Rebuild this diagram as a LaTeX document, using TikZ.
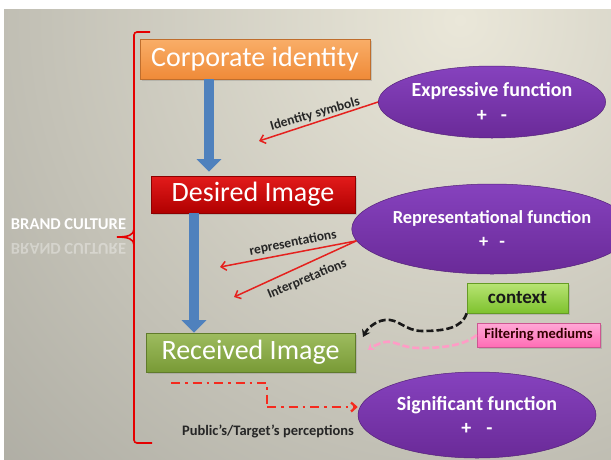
\documentclass[tikz,border=0pt]{standalone}
\usepackage{fontspec}
\setmainfont{Carlito}
\usetikzlibrary{arrows.meta,shapes.geometric,shadows,calc}
\definecolor{bgin}{HTML}{EAE7D9}
\definecolor{bgout}{HTML}{9C9B93}
\definecolor{orgT}{HTML}{F9AE68}
\definecolor{orgB}{HTML}{EF8A38}
\definecolor{redT}{HTML}{E31B1B}
\definecolor{redB}{HTML}{B00000}
\definecolor{grnT}{HTML}{9EBC5F}
\definecolor{grnB}{HTML}{789A36}
\definecolor{ctxT}{HTML}{B8E474}
\definecolor{ctxB}{HTML}{7EC22E}
\definecolor{pnkT}{HTML}{FFA8D6}
\definecolor{pnkB}{HTML}{FF6DB5}
\definecolor{purT}{HTML}{8642BE}
\definecolor{purB}{HTML}{6A2A98}
\definecolor{blueA}{HTML}{4F81BD}
\definecolor{lineR}{HTML}{E5211E}
\definecolor{dashR}{HTML}{F52A1E}
\definecolor{pinkL}{HTML}{FF9CC6}
\begin{document}
\begin{tikzpicture}[x=1pt,y=-1pt,
  box/.style={rectangle, inner sep=0pt, draw=#1!80!black, line width=0.6pt,
    drop shadow={opacity=0.3, shadow xshift=2pt, shadow yshift=-2pt}},
  bigtext/.style={font=\fontsize{28}{30}\selectfont, text=white},
  func/.style={ellipse, inner sep=0pt, top color=purT, bottom color=purB, draw=purB!80!black,
    line width=0.5pt, text=white, align=center},
  redarr/.style={draw=lineR, line width=1.5pt, -{Straight Barb[length=5pt,width=9pt]}},
  lbl/.style={font=\bfseries\fontsize{13.5}{15}\selectfont, text=black!85, inner sep=1pt},
  bluearr/.style={draw=blueA, line width=9.5pt, -{Triangle[width=24pt,length=12.5pt]}},
  dashdot/.style={draw=dashR, line width=2.3pt, dash pattern=on 9pt off 5pt on 2.5pt off 5pt},
]
\useasboundingbox (0,0) rectangle (611,459);
% background
\fill[white] (0,0) rectangle (611,459);
\begin{scope}
  \clip (4,9) rectangle (611,459);
  \shade[inner color=bgin, outer color=bgout] (460,20) circle (850);
\end{scope}

% bracket
\draw[red!90!black, line width=1.6pt, rounded corners=3pt]
  (150,32) -- (134,32) -- (134,443) -- (152,443);
\draw[red!90!black, line width=1.6pt] (134,229) .. controls (134,235) and (128,237) .. (117,237);
\draw[red!90!black, line width=1.6pt] (134,245) .. controls (134,239) and (128,237) .. (117,237);

% brand culture
\node[font=\bfseries\fontsize{16.5}{18}\selectfont, text=white, inner sep=1pt] (brand) at (68.5,224) {BRAND CULTURE};
\node[font=\bfseries\fontsize{16.5}{18}\selectfont, text=white, opacity=0.35, yscale=-1, inner sep=1pt] (brandr) at (68.5,249) {BRAND CULTURE};

% boxes
\node[box=orgB, top color=orgT, bottom color=orgB, minimum width=230pt, minimum height=40pt, bigtext]
  (corp) at (255,59) {Corporate identity};
\node[box=redB, top color=redT, bottom color=redB, minimum width=204pt, minimum height=37pt, bigtext]
  (desired) at (253,194.5) {Desired Image};
\node[box=grnB, top color=grnT, bottom color=grnB, minimum width=209pt, minimum height=39pt, bigtext]
  (received) at (250.5,352.5) {Received Image};
\node[box=ctxB, top color=ctxT, bottom color=ctxB, minimum width=101pt, minimum height=30pt,
  font=\bfseries\fontsize{19}{21}\selectfont, text=black!90]
  (context) at (517.5,298) {context};
\node[box=pnkB, top color=pnkT, bottom color=pnkB, minimum width=123pt, minimum height=24pt,
  font=\bfseries\fontsize{14.5}{16}\selectfont, text=black!80!red]
  (filter) at (538.5,335) {Filtering mediums};

% ellipses
\node[func, minimum width=206pt, minimum height=72pt, font=\bfseries\fontsize{20}{25}\selectfont]
  (expr) at (492,102) {Expressive function\\+\hspace{14pt}-};
\node[func, minimum width=234pt, minimum height=90pt, font=\bfseries\fontsize{18.4}{24}\selectfont]
  (rep) at (492,229) {Representational function\\+\hspace{11pt}-};
\node[func, minimum width=238pt, minimum height=86pt, font=\bfseries\fontsize{20}{24}\selectfont]
  (sig) at (477,415) {Significant function\\+\hspace{15pt}-};

% blue arrows
\coordinate (a1) at (209,0);
\coordinate (a2) at (194,0);
\draw[bluearr] (corp.south -| a1) -- ([yshift=4pt]desired.north -| a1);
\draw[bluearr] (desired.south -| a2) -- (received.north -| a2);

% red arrows from functions
\coordinate (t1) at (259,141);
\coordinate (t2) at (220,267);
\coordinate (t3) at (234,297);
\draw[redarr] (expr.west) -- (t1);
\draw[redarr] (rep.185) -- (t2);
\draw[redarr] (rep.185) -- (t3);
\node[lbl, rotate=16] (idsym) at (315,114) {Identity symbols};
\node[lbl, rotate=11] (reps) at (293,243) {representations};
\node[lbl, rotate=22.6] (interp) at (307,279) {Interpretations};

% context and filtering curves
\coordinate (c1) at (363,337);
\coordinate (c2) at (368,350);
\draw[black!90, line width=2.6pt, dash pattern=on 7pt off 3pt, -{Stealth[length=7pt,width=9pt]}]
  (context.south west) .. controls (462,328) and (445,331) .. (422,331)
  .. controls (405,331) and (398,318) .. (385,320)
  .. controls (375,321) and (367,329) .. (c1);
\draw[pinkL, line width=2.6pt, dash pattern=on 7pt off 3pt, -{Stealth[length=6pt,width=8pt]}]
  (filter.west) .. controls (465,345) and (445,348) .. (420,348)
  .. controls (400,348) and (395,340) .. (385,342)
  .. controls (377,344) and (372,347) .. (c2);

% dash-dot perception arrow
\coordinate (d1) at (171,383);
\coordinate (d2) at (267,383);
\coordinate (d3) at (267,407);
\draw[dashdot] (d1) -- (d2) -- (d3);
\draw[dashdot, -{Straight Barb[length=5pt,width=9pt]}] (d3) -- (d3 -| sig.west);
\node[font=\bfseries\fontsize{14.5}{16}\selectfont, text=black!85] (pub) at (268,431) {Public's/Target's perceptions};
\end{tikzpicture}
\end{document}
